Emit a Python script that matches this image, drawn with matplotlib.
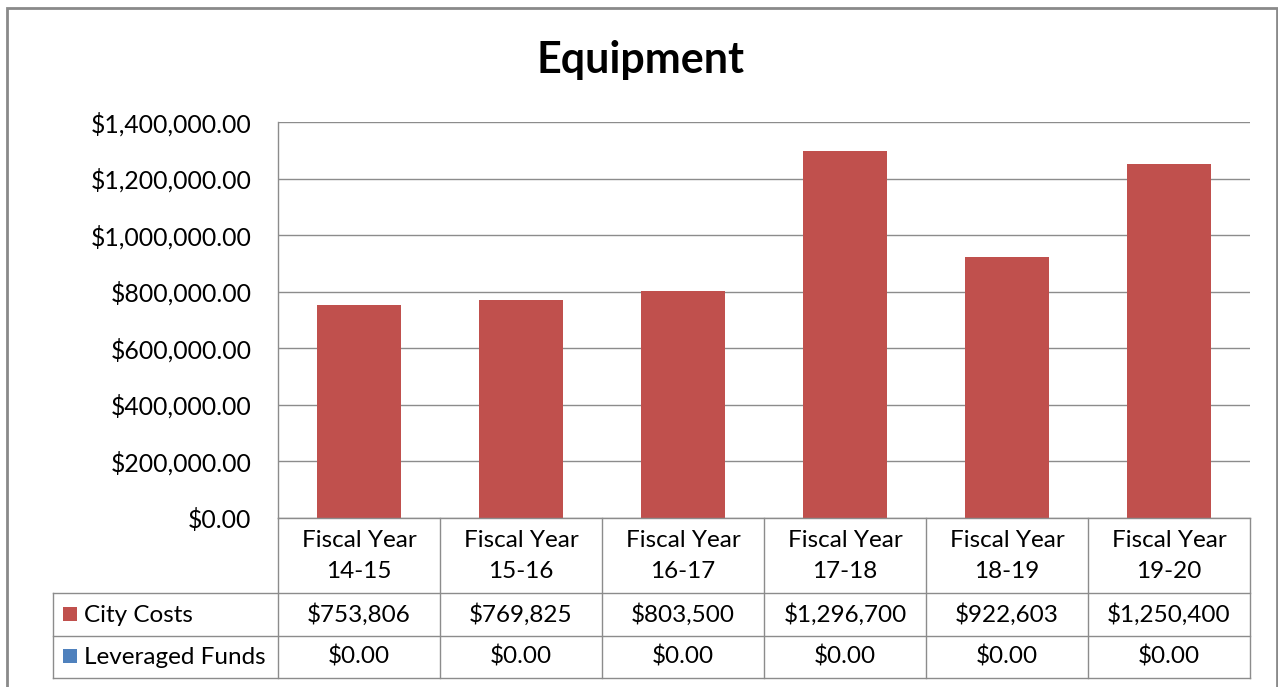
import matplotlib
matplotlib.use("Agg")
import matplotlib.pyplot as plt
from matplotlib.patches import Rectangle
from matplotlib.lines import Line2D
from matplotlib.ticker import FuncFormatter

categories = ["Fiscal Year\n14-15", "Fiscal Year\n15-16", "Fiscal Year\n16-17",
              "Fiscal Year\n17-18", "Fiscal Year\n18-19", "Fiscal Year\n19-20"]
city_costs = [753806, 769825, 803500, 1296700, 922603, 1250400]
leveraged_funds = [0, 0, 0, 0, 0, 0]
series_names = ["City Costs", "Leveraged Funds"]
y_ticks = [0, 200000, 400000, 600000, 800000, 1000000, 1200000, 1400000]

RED = "#C0504D"
BLUE = "#4F81BD"
GRID = "#8C8C8C"
FONT = "Lato"

W, H = 1278, 687
fig = plt.figure(figsize=(W / 100, H / 100), dpi=100)

def fx(px):
    return px / W

def fy(py):
    return 1 - py / H

# outer chart frame
fig.add_artist(Rectangle((fx(7), fy(700)), fx(1277) - fx(7), fy(8) - fy(700),
                         transform=fig.transFigure, fill=False,
                         edgecolor="#8A8A8A", linewidth=2))

fig.text(fx(641), fy(60), "Equipment", ha="center", va="center",
         fontsize=31, fontweight="bold", family=FONT, color="black")

# plot area
L, R, T, B = 278, 1250, 122, 518
ax = fig.add_axes([fx(L), fy(B), fx(R) - fx(L), fy(T) - fy(B)])
x = list(range(len(categories)))
ax.bar(x, leveraged_funds, width=0.52, color=BLUE, zorder=3)
ax.bar(x, city_costs, width=0.52, bottom=leveraged_funds, color=RED, zorder=3)
ax.set_xlim(-0.5, len(categories) - 0.5)
ax.set_ylim(0, 1400000)
ax.set_yticks(y_ticks)
ax.yaxis.set_major_formatter(FuncFormatter(lambda v, p: f"${v:,.2f}"))
ax.tick_params(axis="y", length=0, pad=19, labelsize=17.8, labelcolor="black")
for lab in ax.get_yticklabels():
    lab.set_family(FONT)
ax.set_xticks([])
ax.grid(axis="y", color=GRID, linewidth=1, zorder=0)
for s in ["top", "right", "bottom"]:
    ax.spines[s].set_visible(False)
ax.spines["left"].set_color(GRID)
ax.spines["left"].set_linewidth(1)

# data table below the plot
TL = 53
row_edges = [518, 593, 636, 678]
col_w = (R - L) / len(categories)
col_edges = [L + i * col_w for i in range(len(categories) + 1)]
line_kw = dict(transform=fig.transFigure, color="#8C8C8C", linewidth=1)

for yy in row_edges[1:]:
    fig.add_artist(Line2D([fx(TL), fx(R)], [fy(yy), fy(yy)], **line_kw))
fig.add_artist(Line2D([fx(L), fx(R)], [fy(518), fy(518)], **line_kw))
fig.add_artist(Line2D([fx(TL), fx(TL)], [fy(593), fy(678)], **line_kw))
for xx in col_edges:
    fig.add_artist(Line2D([fx(xx), fx(xx)], [fy(518), fy(678)], **line_kw))

txt_kw = dict(fontsize=17.5, family=FONT, color="black", va="center")
for i, cat in enumerate(categories):
    cx = (col_edges[i] + col_edges[i + 1]) / 2
    fig.text(fx(cx), fy(556), cat, ha="center", linespacing=1.55, **txt_kw)
    fig.text(fx(cx), fy(615), f"${city_costs[i]:,.0f}", ha="center", **txt_kw)
    fig.text(fx(cx), fy(657), f"${leveraged_funds[i]:,.2f}", ha="center", **txt_kw)

for name, color, cy in [(series_names[0], RED, 614), (series_names[1], BLUE, 656)]:
    fig.add_artist(Rectangle((fx(63), fy(cy + 7)), fx(77) - fx(63), fy(cy - 7) - fy(cy + 7),
                             transform=fig.transFigure, facecolor=color, edgecolor="none"))
    fig.text(fx(84), fy(cy + 1), name, ha="left", **txt_kw)

fig.savefig("out.png", dpi=100, facecolor="white")
